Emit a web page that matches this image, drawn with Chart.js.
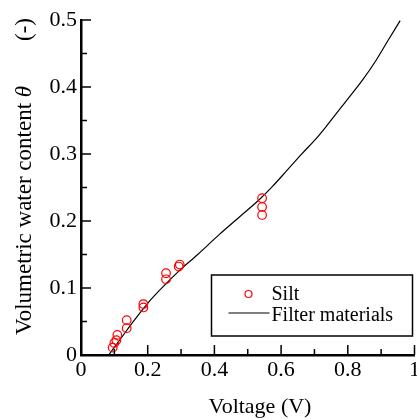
<!DOCTYPE html>
<html>
<head>
<meta charset="utf-8">
<script src="https://cdn.jsdelivr.net/npm/chart.js@4.4.1/dist/chart.umd.min.js"></script>
<style>
    html, body { margin: 0; padding: 0; background: #fff; overflow: hidden; }
    #wrap { width: 417px; height: 419px; overflow: hidden; }
</style>
</head>
<body>
<div id="wrap"><canvas id="chart" width="420" height="419"></canvas></div>
<script>
// measured silt samples
const siltVoltage = [0.095, 0.100, 0.106, 0.109, 0.137, 0.137, 0.187, 0.187, 0.255, 0.255, 0.293, 0.296, 0.543, 0.543, 0.543];
const siltTheta   = [0.011, 0.018, 0.022, 0.030, 0.040, 0.052, 0.071, 0.076, 0.113, 0.122, 0.132, 0.135, 0.234, 0.221, 0.209];

// calibration curve for the filter materials
const filterVoltage = [0.083, 0.12, 0.16, 0.21, 0.25, 0.295, 0.35, 0.415, 0.475, 0.535, 0.575, 0.615, 0.66, 0.705, 0.735, 0.795, 0.845, 0.885, 0.92, 0.957];
const filterTheta   = [0.0, 0.025, 0.052, 0.083, 0.104, 0.126, 0.150, 0.180, 0.206, 0.232, 0.252, 0.274, 0.299, 0.323, 0.341, 0.379, 0.411, 0.440, 0.469, 0.499];

const xMajor = [0, 0.2, 0.4, 0.6, 0.8, 1];
const xMinor = [0.1, 0.3, 0.5, 0.7, 0.9];
const yMajor = [0, 0.1, 0.2, 0.3, 0.4, 0.5];
const yMinor = [0.05, 0.15, 0.25, 0.35, 0.45];

const serif = '"Liberation Serif", "Times New Roman", serif';

const toPoints = (xs, ys) => xs.map((x, i) => ({ x: x, y: ys[i] }));

// ticks point inward, minor ones shorter
const innerTicks = {
    id: 'innerTicks',
    afterDraw(chart) {
        const ctx = chart.ctx;
        const x = chart.scales.x, y = chart.scales.y;
        const area = chart.chartArea;
        ctx.save();
        ctx.strokeStyle = '#000';
        ctx.lineWidth = 1.5;
        const tick = (vals, len, isX) => {
            vals.forEach(v => {
                ctx.beginPath();
                if (isX) {
                    const px = x.getPixelForValue(v);
                    ctx.moveTo(px, area.bottom);
                    ctx.lineTo(px, area.bottom - len);
                } else {
                    const py = y.getPixelForValue(v);
                    ctx.moveTo(area.left, py);
                    ctx.lineTo(area.left + len, py);
                }
                ctx.stroke();
            });
        };
        tick(xMajor, 10, true);
        tick(xMinor, 6, true);
        tick(yMajor, 10, false);
        tick(yMinor, 6, false);
        ctx.restore();
    }
};

// axis titles (theta in italics)
const axisTitles = {
    id: 'axisTitles',
    afterDraw(chart) {
        const ctx = chart.ctx;
        ctx.save();
        ctx.fillStyle = '#000';
        ctx.textBaseline = 'alphabetic';
        ctx.font = '22px ' + serif;
        ctx.textAlign = 'center';
        ctx.fillText('Voltage (V)', 260, 413);

        ctx.translate(31, 335);
        ctx.rotate(-Math.PI / 2);
        ctx.textAlign = 'left';
        ctx.font = '23px ' + serif;
        const head = 'Volumetric water content ';
        ctx.fillText(head, 0, 0);
        const w = ctx.measureText(head).width;
        ctx.font = 'italic 23px ' + serif;
        ctx.fillText('\u03b8', w, 0);
        ctx.font = '23px ' + serif;
        ctx.textAlign = 'right';
        ctx.fillText('(-)', 317, 0);
        ctx.restore();
    }
};

// boxed legend inside the plot
const boxLegend = {
    id: 'boxLegend',
    afterDraw(chart) {
        const ctx = chart.ctx;
        const area = chart.chartArea;
        const right = area.right - 2, bottom = area.bottom - 19;
        const left = right - 201, top = bottom - 61;
        const sets = chart.data.datasets;
        ctx.save();
        ctx.fillStyle = '#fff';
        ctx.fillRect(left, top, right - left, bottom - top);
        ctx.strokeStyle = '#000';
        ctx.lineWidth = 1.5;
        ctx.strokeRect(left, top, right - left, bottom - top);

        ctx.font = '20px ' + serif;
        ctx.fillStyle = '#000';
        ctx.textAlign = 'left';
        ctx.textBaseline = 'alphabetic';

        // marker entry
        ctx.strokeStyle = sets[0].borderColor;
        ctx.lineWidth = 1.2;
        ctx.beginPath();
        ctx.arc(left + 37, top + 19, 3.5, 0, Math.PI * 2);
        ctx.stroke();
        ctx.fillText(sets[0].label, left + 60, top + 25);

        // line entry
        ctx.strokeStyle = sets[1].borderColor;
        ctx.lineWidth = 1.2;
        ctx.beginPath();
        ctx.moveTo(left + 17, top + 38);
        ctx.lineTo(left + 58, top + 38);
        ctx.stroke();
        ctx.fillText(sets[1].label, left + 60, top + 46);
        ctx.restore();
    }
};

const tickFont = { family: serif, size: 22 };

new Chart(document.getElementById('chart'), {
    type: 'scatter',
    data: {
        datasets: [
            {
                label: 'Silt',
                data: toPoints(siltVoltage, siltTheta),
                showLine: false,
                pointStyle: 'circle',
                pointRadius: 4.3,
                pointBorderWidth: 1.2,
                borderColor: '#ff0000',
                backgroundColor: 'rgba(0,0,0,0)',
                clip: false,
                order: 1
            },
            {
                label: 'Filter materials',
                data: toPoints(filterVoltage, filterTheta),
                showLine: true,
                pointRadius: 0,
                borderColor: '#000',
                borderWidth: 1.2,
                cubicInterpolationMode: 'monotone',
                order: 2
            }
        ]
    },
    options: {
        responsive: false,
        animation: false,
        layout: { padding: { top: 20, right: 0, left: 0, bottom: 0 } },
        plugins: {
            legend: { display: false },
            tooltip: { enabled: false }
        },
        scales: {
            x: {
                type: 'linear',
                min: 0,
                max: 1,
                grid: { display: false, drawTicks: false },
                border: { display: true, color: '#000', width: 2.5 },
                ticks: {
                    stepSize: 0.2,
                    padding: 2,
                    color: '#000',
                    font: tickFont,
                    maxRotation: 0,
                    autoSkip: false,
                    callback: v => (v === 0 || v === 1) ? String(v) : v.toFixed(1)
                },
                afterFit(scale) {
                    scale.height = 64;
                    scale.paddingLeft = 0;
                    scale.paddingRight = 0;
                }
            },
            y: {
                type: 'linear',
                min: 0,
                max: 0.5,
                grid: { display: false, drawTicks: false },
                border: { display: true, color: '#000', width: 2.5 },
                ticks: {
                    stepSize: 0.1,
                    padding: 4,
                    color: '#000',
                    font: tickFont,
                    autoSkip: false,
                    callback: v => v === 0 ? '0' : v.toFixed(1)
                },
                afterFit(scale) {
                    scale.width = 81;
                    scale.paddingTop = 0;
                    scale.paddingBottom = 0;
                }
            }
        }
    },
    plugins: [innerTicks, axisTitles, boxLegend]
});
</script>
</body>
</html>
